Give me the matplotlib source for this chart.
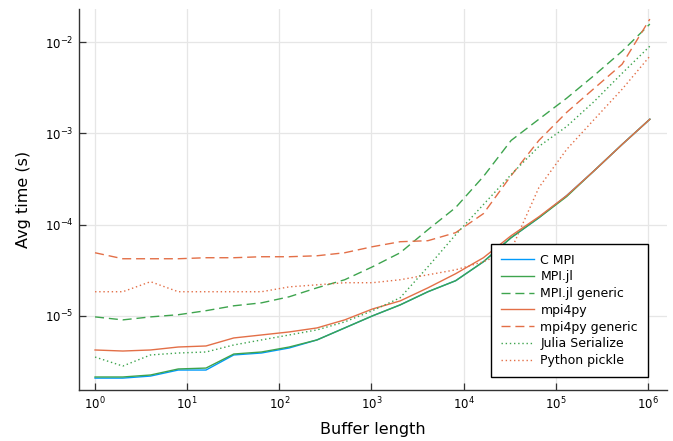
import numpy as np
import matplotlib.pyplot as plt

# buffer lengths 2^0 .. 2^20
buf_len = 2.0 ** np.arange(21)

c_mpi = [2.08e-6, 2.08e-6, 2.19e-6, 2.55e-6, 2.55e-6, 3.73e-6, 3.92e-6, 4.45e-6, 5.45e-6, 7.38e-6,
         1.00e-5, 1.32e-5, 1.84e-5, 2.43e-5, 3.92e-5, 7.20e-5, 1.19e-4, 2.08e-4, 3.92e-4, 7.57e-4, 1.43e-3]
mpi_jl = [2.14e-6, 2.14e-6, 2.25e-6, 2.62e-6, 2.68e-6, 3.82e-6, 4.02e-6, 4.56e-6, 5.45e-6, 7.38e-6,
          1.00e-5, 1.32e-5, 1.84e-5, 2.43e-5, 3.92e-5, 7.20e-5, 1.19e-4, 2.03e-4, 3.92e-4, 7.57e-4, 1.43e-3]
mpi_jl_generic = [9.75e-6, 9.04e-6, 9.75e-6, 1.03e-5, 1.14e-5, 1.29e-5, 1.39e-5, 1.62e-5, 2.03e-5, 2.49e-5,
                  3.45e-5, 4.92e-5, 8.81e-5, 1.54e-4, 3.37e-4, 8.38e-4, 1.43e-3, 2.43e-3, 4.34e-3, 7.96e-3, 1.58e-2]
mpi4py = [4.23e-6, 4.12e-6, 4.23e-6, 4.56e-6, 4.68e-6, 5.73e-6, 6.18e-6, 6.67e-6, 7.38e-6, 9.04e-6,
          1.19e-5, 1.46e-5, 2.03e-5, 2.90e-5, 4.34e-5, 7.57e-5, 1.22e-4, 2.08e-4, 3.92e-4, 7.57e-4, 1.43e-3]
mpi4py_generic = [4.92e-5, 4.23e-5, 4.23e-5, 4.23e-5, 4.34e-5, 4.34e-5, 4.45e-5, 4.45e-5, 4.56e-5, 4.92e-5,
                  5.73e-5, 6.50e-5, 6.67e-5, 8.17e-5, 1.32e-4, 3.45e-4, 8.38e-4, 1.70e-3, 3.13e-3, 5.73e-3, 1.79e-2]
julia_serialize = [3.54e-6, 2.82e-6, 3.73e-6, 3.92e-6, 4.02e-6, 4.80e-6, 5.45e-6, 6.18e-6, 7.02e-6, 8.59e-6,
                   1.14e-5, 1.58e-5, 3.45e-5, 7.76e-5, 1.66e-4, 3.54e-4, 7.20e-4, 1.19e-3, 2.25e-3, 4.56e-3, 9.04e-3]
python_pickle = [1.84e-5, 1.84e-5, 2.37e-5, 1.84e-5, 1.84e-5, 1.84e-5, 1.84e-5, 2.08e-5, 2.19e-5, 2.31e-5,
                 2.31e-5, 2.49e-5, 2.82e-5, 3.20e-5, 3.92e-5, 5.30e-5, 2.55e-4, 6.67e-4, 1.43e-3, 3.05e-3, 7.02e-3]

blue = '#009AFA'
orange = '#E36F47'
green = '#3EA44E'
dash = (0, (6.5, 3.5))
dot = (0, (1, 2))

fig = plt.figure(figsize=(6.73, 4.41), dpi=100)
ax = fig.add_axes([0.1174, 0.1156, 0.8737, 0.864])

lw = 1.0
ax.plot(buf_len, c_mpi, color=blue, lw=lw, label='C MPI')
ax.plot(buf_len, mpi_jl, color=green, lw=lw, label='MPI.jl')
ax.plot(buf_len, mpi_jl_generic, color=green, lw=lw, ls=dash, label='MPI.jl generic')
ax.plot(buf_len, mpi4py, color=orange, lw=lw, label='mpi4py')
ax.plot(buf_len, mpi4py_generic, color=orange, lw=lw, ls=dash, label='mpi4py generic')
ax.plot(buf_len, julia_serialize, color=green, lw=lw, ls=dot, label='Julia Serialize')
ax.plot(buf_len, python_pickle, color=orange, lw=lw, ls=dot, label='Python pickle')

ax.set_xscale('log')
ax.set_yscale('log')
ax.set_xlim(0.67, 1.61e6)
ax.set_ylim(1.54e-6, 2.31e-2)
ax.set_xticks([10.0 ** k for k in range(0, 7)])
ax.set_yticks([10.0 ** k for k in range(-5, -1)])
ax.minorticks_off()

ax.grid(True, color='#e6e6e6', lw=0.9)
ax.set_axisbelow(True)
for s in ['top', 'right']:
    ax.spines[s].set_visible(False)
for s in ['left', 'bottom']:
    ax.spines[s].set_color('#333333')
    ax.spines[s].set_linewidth(1.0)
ax.tick_params(direction='in', length=5, width=0.9, color='#333333', labelsize=8.5, pad=4)

ax.set_xlabel('Buffer length', fontsize=11.5, labelpad=7)
ax.set_ylabel('Avg time (s)', fontsize=11.5, labelpad=10)

leg = ax.legend(loc='lower right', bbox_to_anchor=(648 / 673, 64 / 441), bbox_transform=fig.transFigure,
                fontsize=9, frameon=True, fancybox=False, framealpha=1, edgecolor='black',
                handlelength=2.6, handletextpad=0.55, labelspacing=0.3, borderpad=0.8, borderaxespad=0)
leg.get_frame().set_linewidth(1.0)

fig.savefig('out.png', dpi=100)
